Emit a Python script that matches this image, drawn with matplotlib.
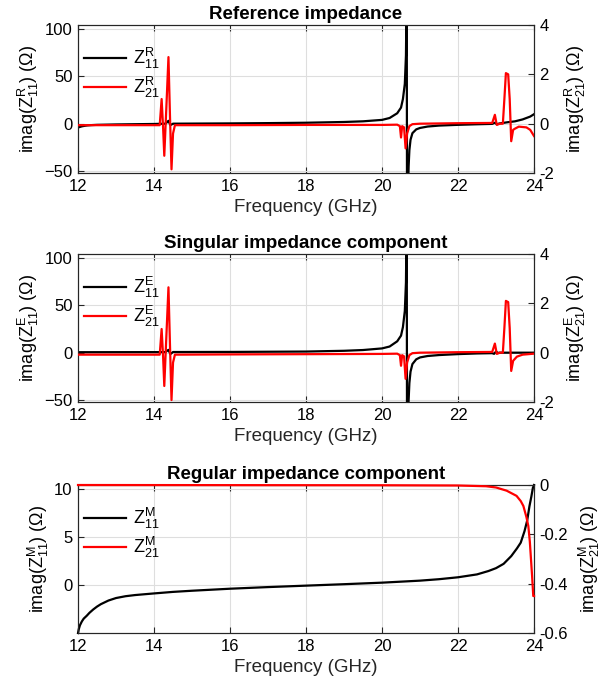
import numpy as np
import matplotlib
matplotlib.use('Agg')
import matplotlib.pyplot as plt

plt.rcParams['font.family'] = ['Liberation Sans', 'DejaVu Sans']
plt.rcParams['mathtext.fontset'] = 'custom'
plt.rcParams['mathtext.rm'] = 'Liberation Sans'
plt.rcParams['mathtext.it'] = 'Liberation Sans:italic'
plt.rcParams['mathtext.bf'] = 'Liberation Sans:bold'

# ---- Reference impedance (panel 1) ----
f_ref_11 = [12.0, 12.05, 12.1, 12.18, 12.25, 12.35, 12.5, 13.0, 14.0, 14.3, 14.38, 14.43, 14.5,
            15.0, 16.0, 17.0, 18.0, 19.0, 19.5, 20.0, 20.2, 20.4, 20.5, 20.55, 20.6, 20.63,
            20.65, 20.66, 20.68, 20.70, 20.72, 20.75, 20.8, 20.9, 21.0, 21.2, 21.5, 22.0,
            22.5, 22.9, 22.97, 23.02, 23.1, 23.3, 23.5, 23.7, 23.9, 24.0]
z_ref_11 = [-4.0, -3.4, -2.8, -2.2, -1.8, -1.5, -1.2, -0.8, -0.3, 0.0, 3.0, -1.5, 0.0,
            0.1, 0.3, 0.6, 1.0, 1.8, 2.5, 4.0, 6.0, 11.0, 17.0, 26.0, 42.0, 72.0,
            150.0, -150.0, -80.0, -45.0, -28.0, -17.0, -10.0, -6.0, -4.5, -3.0, -2.0, -1.2,
            -0.6, -0.2, 1.0, -0.5, 0.3, 1.5, 2.5, 4.5, 7.5, 10.0]
f_ref_21 = [12.0, 14.0, 14.15, 14.2, 14.24, 14.27, 14.32, 14.38, 14.42, 14.46, 14.5, 14.55,
            16.0, 18.0, 20.0, 20.4, 20.47, 20.5, 20.53, 20.58, 20.62, 20.66, 20.72, 20.8,
            21.0, 22.0, 22.9, 22.97, 23.02, 23.1, 23.18, 23.22, 23.26, 23.32, 23.36, 23.4,
            23.45, 23.5, 23.6, 23.8, 23.9, 24.0]
z_ref_21 = [-0.06, -0.06, -0.06, 1.0, -0.2, -1.3, 0.5, 2.7, 0.3, -1.85, -0.4, -0.06,
            -0.06, -0.05, -0.05, -0.04, -0.1, -0.56, -0.1, -0.15, -1.0, -0.4, -0.1, -0.02,
            0.0, 0.02, 0.03, 0.36, -0.05, 0.0, 0.0, 1.0, 2.05, 2.0, 1.0, -0.71,
            -0.25, -0.2, -0.12, -0.15, -0.25, -0.5]

# ---- Singular impedance component (panel 2) ----
f_sing_11 = [12.0, 14.0, 14.3, 14.38, 14.43, 14.5, 16.0, 18.0, 19.0, 19.5, 20.0, 20.2, 20.4,
             20.5, 20.55, 20.6, 20.63, 20.65, 20.66, 20.68, 20.70, 20.72, 20.75, 20.8, 20.9,
             21.0, 21.2, 21.5, 22.0, 22.5, 22.9, 22.95, 23.0, 23.05, 23.1, 24.0]
z_sing_11 = [0.5, 0.6, 0.6, 3.0, -1.5, 0.7, 0.8, 1.2, 2.0, 2.8, 4.5, 6.5, 12.0,
             18.0, 27.0, 44.0, 74.0, 150.0, -150.0, -85.0, -50.0, -32.0, -20.0, -12.0, -7.0,
             -5.0, -3.5, -2.5, -1.5, -0.8, -0.5, -1.2, 1.2, -0.3, 0.0, 0.0]
f_sing_21 = [12.0, 14.0, 14.15, 14.2, 14.24, 14.27, 14.32, 14.38, 14.42, 14.46, 14.5, 14.55,
             16.0, 18.0, 20.0, 20.4, 20.47, 20.5, 20.53, 20.58, 20.62, 20.66, 20.72, 20.8,
             21.0, 22.0, 22.9, 22.97, 23.02, 23.1, 23.18, 23.22, 23.26, 23.32, 23.36, 23.4,
             23.45, 23.55, 23.7, 24.0]
z_sing_21 = [-0.08, -0.08, -0.08, 0.96, -0.2, -1.35, 0.5, 2.65, 0.3, -1.92, -0.4, -0.08,
             -0.07, -0.06, -0.05, -0.04, -0.1, -0.53, -0.1, -0.15, -1.06, -0.4, -0.1, -0.02,
             0.0, 0.02, 0.03, 0.37, -0.05, 0.0, 0.0, 1.0, 2.1, 2.05, 1.0, -0.74,
             -0.33, -0.16, -0.08, -0.04]

# ---- Regular impedance component (panel 3) ----
f_reg_11 = [12.0, 12.02, 12.05, 12.1, 12.15, 12.23, 12.3, 12.4, 12.5, 12.6, 12.8, 13.0,
            13.25, 13.5, 14.0, 14.5, 15.0, 16.0, 17.0, 18.0, 19.0, 20.0, 21.0, 21.5, 22.0,
            22.5, 22.8, 23.0, 23.2, 23.4, 23.55, 23.65, 23.75, 23.82, 23.88, 23.93, 23.97, 24.0]
z_reg_11 = [-5.0, -4.6, -4.2, -3.8, -3.5, -3.2, -2.9, -2.55, -2.25, -2.0, -1.62, -1.36,
            -1.17, -1.05, -0.88, -0.72, -0.6, -0.39, -0.22, -0.07, 0.08, 0.24, 0.45, 0.6, 0.8,
            1.1, 1.45, 1.75, 2.2, 3.0, 3.8, 4.4, 5.6, 6.7, 8.2, 9.2, 10.1, 10.4]
f_reg_21 = [12.0, 20.0, 22.0, 22.74, 23.0, 23.28, 23.54, 23.65, 23.72, 23.8, 23.85, 23.89,
            23.92, 23.95, 23.98, 24.0]
z_reg_21 = [0.0, -0.001, -0.002, -0.005, -0.01, -0.023, -0.044, -0.065, -0.085, -0.13,
            -0.166, -0.23, -0.30, -0.37, -0.45, -0.45]

freq_ticks = [12, 14, 16, 18, 20, 22, 24]

panels = [
    dict(pos=[0.1294, 0.7496, 0.7562, 0.2142], title='Reference impedance', sup='R',
         f1=f_ref_11, z1=z_ref_11, f2=f_ref_21, z2=z_ref_21,
         yl=(-52, 104), yt=[-50, 0, 50, 100], yr=(-2, 4), ytr=[-2, 0, 2, 4]),
    dict(pos=[0.1294, 0.4182, 0.7562, 0.2142], title='Singular impedance component', sup='E',
         f1=f_sing_11, z1=z_sing_11, f2=f_sing_21, z2=z_sing_21,
         yl=(-52, 104), yt=[-50, 0, 50, 100], yr=(-2, 4), ytr=[-2, 0, 2, 4]),
    dict(pos=[0.1294, 0.0839, 0.7562, 0.2142], title='Regular impedance component', sup='M',
         f1=f_reg_11, z1=z_reg_11, f2=f_reg_21, z2=z_reg_21,
         yl=(-5, 10.4), yt=[0, 5, 10], yr=(-0.6, 0), ytr=[-0.6, -0.4, -0.2, 0]),
]

spine_col = (0.15, 0.15, 0.15)
fig = plt.figure(figsize=(6.03, 6.91), dpi=100)

for p in panels:
    ax = fig.add_axes(p['pos'])
    axr = ax.twinx()
    clip = p['sup'] != 'M'
    l1, = ax.plot(p['f1'], p['z1'], color='k', lw=1.6, clip_on=clip, zorder=3)
    l2, = axr.plot(p['f2'], p['z2'], color='r', lw=1.6, clip_on=clip, zorder=3)
    ax.set_xlim(12, 24)
    ax.set_xticks(freq_ticks)
    ax.set_ylim(*p['yl'])
    ax.set_yticks(p['yt'])
    axr.set_ylim(*p['yr'])
    axr.set_yticks(p['ytr'])
    axr.set_yticklabels([('%g' % v) for v in p['ytr']])
    ax.grid(True, color=(0.87, 0.87, 0.87), lw=0.8)
    ax.set_axisbelow(True)
    for a in (ax, axr):
        for s in a.spines.values():
            s.set_color(spine_col)
            s.set_linewidth(0.8)
        a.tick_params(direction='in', length=4, labelsize=12, colors=spine_col,
                      labelcolor='k', pad=4)
    ax.tick_params(axis='x', top=True)
    s = p['sup']
    ax.set_ylabel(r'imag($\mathrm{Z}^{\mathrm{%s}}_{11}$) ($\Omega$)' % s, fontsize=13, labelpad=2)
    axr.set_ylabel(r'imag($\mathrm{Z}^{\mathrm{%s}}_{21}$) ($\Omega$)' % s, fontsize=13, labelpad=6)
    ax.set_xlabel('Frequency (GHz)', fontsize=13.5, color=(0.15, 0.15, 0.15), labelpad=4)
    ax.set_title(p['title'], fontsize=13.5, fontweight='bold', pad=4)
    ax.legend([l1, l2],
              [r'$\mathrm{Z}^{\mathrm{%s}}_{11}$' % s, r'$\mathrm{Z}^{\mathrm{%s}}_{21}$' % s],
              loc='upper left', bbox_to_anchor=(-0.01, 0.93), frameon=False, fontsize=13,
              handlelength=2.3, labelspacing=0.2, handletextpad=0.4, borderaxespad=0.2)

plt.savefig('out.png', dpi=100)
